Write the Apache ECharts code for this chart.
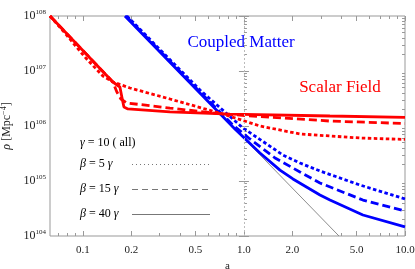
<!DOCTYPE html>
<html><head><meta charset="utf-8">
<script src="https://cdn.jsdelivr.net/npm/echarts@6/dist/echarts.min.js"></script>
<style>html,body{margin:0;padding:0;background:#fff}#c{width:415px;height:269px}</style>
</head><body><div id="c"></div>
<script>
// ---- data (a, rho) ----
const redSolid  = [[0.0625,1e8],[0.1535,6.31e6],[0.1698,5.12e6],[0.1746,3.37e6],[0.1798,2.21e6],[0.1903,2.04e6],[0.347,1.80e6],[0.819,1.65e6],[3.42,1.52e6],[10,1.43e6]];
const redDashed = [[0.0625,1e8],[0.1535,6.31e6],[0.1626,4.15e6],[0.1722,3.10e6],[0.1876,2.62e6],[0.347,2.12e6],[0.741,1.65e6],[3.42,1.23e6],[10,1.11e6]];
const redDotted = [[0.0625,1e8],[0.0773,4.91e7],[0.1028,1.80e7],[0.1331,8.11e6],[0.1535,6.31e6],[0.1959,4.91e6],[0.347,3.10e6],[0.741,1.65e6],[1.257,1.0e6],[2.228,7.16e5],[5.25,6.05e5],[10,5.7e5]];
const blueSolid = [[0.1824,1e8],[0.879,8.82e5],[1.257,3.23e5],[1.674,1.58e5],[2.015,1.09e5],[2.965,5.56e4],[3.42,4.51e4],[5.48,2.41e4],[10,1.46e4]];
const blueDashed= [[0.1849,1e8],[0.5333,4.15e6],[0.855,1.04e6],[1.089,5.81e5],[1.56,2.62e5],[2.228,1.46e5],[2.965,9.2e4],[5.48,4.51e4],[10,2.85e4]];
const blueDotted= [[0.1876,1e8],[0.5333,4.51e6],[0.986,9.2e5],[1.747,2.97e5],[2.228,2.12e5],[2.965,1.52e5],[5.25,8.46e4],[10,4.71e4]];
const grayRef   = [[0.1824,1e8],[3.89,1e4]];
const refA = 1;

// ---- axes ----
const xMin = 0.0625, xMax = 10, yMin = 1e4, yMax = 1e8;
const xMajorTicks = [0.1,0.2,0.5,1,2,5,10];
const xTickLabels = ['0.1','0.2','0.5','1.0','2.0','5.0','10.0'];
const xMinorTicks = [0.07,0.08,0.09,0.3,0.4,0.6,0.7,0.8,0.9,3,4,6,7,8,9];
const yMajorTicks = [1e4,1e5,1e6,1e7,1e8];
const yTickSup = ['104','105','106','107','108'];
const yMinorTicks = [];
[1e4,1e5,1e6,1e7].forEach(d=>{for(let k=2;k<=9;k++) yMinorTicks.push(d*k);});

const L = Math.log10;
const SERIF = '"Liberation Serif","DejaVu Serif",serif';
const FRAME = '#999';

function tickAxis(dim, pos, vals, len, labels) {
  const isX = dim === 'x';
  const ax = {
    type: 'value', position: pos,
    min: isX ? L(xMin) : L(yMin), max: isX ? L(xMax) : L(yMax),
    axisLine: {show:false}, splitLine: {show:false},
    axisTick: {show:true, inside:true, length:len, lineStyle:{color:FRAME,width:1}, customValues: vals.map(L)},
    axisLabel: {show:false}
  };
  if (labels) {
    ax.axisLabel = {show:true, customValues: vals.map(L), fontFamily:SERIF, color:'#222'};
  }
  return ax;
}

const xAxes = [
  {type:'log', min:xMin, max:xMax, show:false},
  Object.assign(tickAxis('x','bottom',xMajorTicks,5,true), {
    name:'a', nameLocation:'middle', nameGap:18, nameTextStyle:{fontFamily:SERIF,fontSize:11,color:'#222'}
  }),
  tickAxis('x','bottom',xMinorTicks,3,false),
  tickAxis('x','top',xMajorTicks,5,false),
  tickAxis('x','top',xMinorTicks,3,false)
];
xAxes[1].axisLabel.fontSize = 11;
xAxes[1].axisLabel.margin = 9;
xAxes[1].axisLabel.formatter = v => { const i = xMajorTicks.findIndex(t=>Math.abs(L(t)-v)<1e-6); return i>=0 ? xTickLabels[i] : ''; };

const yAxes = [
  {type:'log', min:yMin, max:yMax, show:false},
  Object.assign(tickAxis('y','left',yMajorTicks,5,true), {
    name:'{i|ρ} [Mpc{s|−4}]', nameLocation:'middle', nameGap:33, nameRotate:90,
    nameTextStyle:{fontFamily:SERIF,fontSize:12,color:'#222',
      rich:{i:{fontFamily:SERIF,fontSize:12,fontStyle:'italic',color:'#222'}, s:{fontFamily:SERIF,fontSize:8,color:'#222',padding:[0,0,6,0]}}}
  }),
  tickAxis('y','left',yMinorTicks,3,false),
  tickAxis('y','right',yMajorTicks,5,false),
  tickAxis('y','right',yMinorTicks,3,false)
];
yAxes[1].axisLabel.margin = 4;
yAxes[1].axisLabel.formatter = v => { const i = yMajorTicks.findIndex(t=>Math.abs(L(t)-v)<1e-6); return i>=0 ? '{b|10}{s|'+yTickSup[i]+'}' : ''; };
yAxes[1].axisLabel.rich = {
  b:{fontFamily:SERIF,fontSize:12,color:'#222'},
  s:{fontFamily:SERIF,fontSize:7,color:'#222',padding:[0,0,7,0]}
};

function line(data, color, width, type, z) {
  return {type:'line', xAxisIndex:0, yAxisIndex:0, data, showSymbol:false, symbol:'none', clip:true, z,
    lineStyle:{color, width, type, cap:'butt'}, emphasis:{disabled:true}, animation:false};
}

const series = [
  Object.assign(line(grayRef,'#8c8c8c',1,'solid',1), {
    markLine:{silent:true, symbol:'none', animation:false, label:{show:false},
      lineStyle:{color:'#bbb', width:1, type:[2,2]}, data:[{xAxis:refA}]}
  }),
  line(blueSolid,'#0000ff',2.8,'solid',3),
  line(blueDashed,'#0000ff',2.8,[8,4],3),
  line(blueDotted,'#0000ff',2.8,[3.5,2.5],3),
  line(redSolid,'#ff0000',2.8,'solid',4),
  line(redDashed,'#ff0000',2.8,[8,4],4),
  line(redDotted,'#ff0000',2.8,[3.5,2.5],4)
];

const LEG = '#777';
const legRich = {
  g:{fontFamily:SERIF,fontSize:12,fontStyle:'italic',color:'#222'},
  n:{fontFamily:SERIF,fontSize:12,color:'#222'}
};
const graphic = [
  {type:'text', style:{x:241,y:43,text:'Coupled Matter',fill:'#0000ff',font:'17px '+SERIF,align:'center',verticalAlign:'middle'}},
  {type:'text', style:{x:340,y:88,text:'Scalar Field',fill:'#ff0000',font:'17px '+SERIF,align:'center',verticalAlign:'middle'}},
  {type:'text', style:{x:80,y:143,text:'{g|γ}{n| = 10 ( all)}',rich:legRich,verticalAlign:'middle'}},
  {type:'text', style:{x:80,y:164,text:'{g|β}{n| = 5 }{g|γ}',rich:legRich,verticalAlign:'middle'}},
  {type:'text', style:{x:80,y:189,text:'{g|β}{n| = 15 }{g|γ}',rich:legRich,verticalAlign:'middle'}},
  {type:'text', style:{x:80,y:214,text:'{g|β}{n| = 40 }{g|γ}',rich:legRich,verticalAlign:'middle'}},
  {type:'line', shape:{x1:132,y1:164.5,x2:210,y2:164.5}, style:{stroke:LEG,lineWidth:1,lineDash:[1,3]}},
  {type:'line', shape:{x1:132,y1:189.5,x2:210,y2:189.5}, style:{stroke:LEG,lineWidth:1,lineDash:[6,4]}},
  {type:'line', shape:{x1:132,y1:214.5,x2:210,y2:214.5}, style:{stroke:LEG,lineWidth:1}}
];

const chart = echarts.init(document.getElementById('c'), null, {renderer:'canvas'});
chart.setOption({
  animation:false,
  backgroundColor:'#fff',
  grid:{left:50, right:10, top:16, bottom:33, containLabel:false, outerBoundsMode:'none',
        show:true, borderColor:FRAME, borderWidth:1, backgroundColor:'transparent'},
  xAxis:xAxes, yAxis:yAxes, series, graphic
});
</script></body></html>
